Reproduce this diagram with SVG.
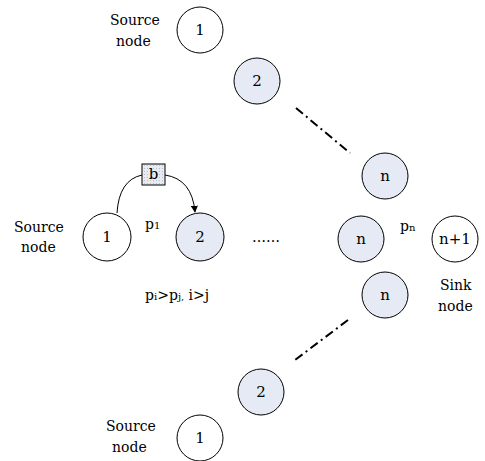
<svg xmlns="http://www.w3.org/2000/svg" width="485" height="461" viewBox="0 0 485 461">
<defs>
<style>
text{font-family:"DejaVu Serif","Liberation Serif",serif}
.t{font-size:14px;fill:#000}
.c{font-size:15px;fill:#000;text-anchor:middle}
.w{fill:#fff;stroke:#000;stroke-width:1}
.g{fill:#e5eaf4;stroke:#000;stroke-width:1}
.dd{fill:none;stroke:#000;stroke-width:2;stroke-dasharray:9,4,2,4}
.arc{fill:none;stroke:#000;stroke-width:1}
</style>
<marker id="ah" viewBox="0 0 10 10" refX="9" refY="5" markerWidth="7" markerHeight="7" orient="auto">
<path d="M0,0 L10,5 L0,10 z" fill="#000"/>
</marker>
<pattern id="dots" width="3" height="3" patternUnits="userSpaceOnUse">
<rect width="3" height="3" fill="#e8ecf2"/>
<rect width="1" height="1" fill="#b8c0cc"/>
</pattern>
</defs>
<rect width="485" height="461" fill="#fff"/>
<g id="connectors">
<path class="dd" d="M296,108 L350,153"/>
<path class="dd" d="M348,320 L295,360"/>
<path class="arc" d="M117,213 Q119,180 142,175"/>
<path class="arc" d="M165,175 Q192,179 195,212" marker-end="url(#ah)"/>
</g>
<g id="top-source-label"><text class="t" x="110" y="25">Source</text><text class="t" x="116" y="46">node</text></g>
<g id="top-1"><circle class="w" cx="200" cy="30" r="23"/><text class="c" x="200" y="35">1</text></g>
<g id="top-2"><circle class="g" cx="257" cy="81" r="23"/><text class="c" x="257" y="86">2</text></g>
<g id="top-n"><circle class="g" cx="385" cy="176" r="23"/><text class="c" x="385" y="181">n</text></g>
<g id="mid-source-label"><text class="t" x="14" y="232">Source</text><text class="t" x="21" y="252">node</text></g>
<g id="mid-1"><circle class="w" cx="107" cy="237" r="24"/><text class="c" x="107" y="242">1</text></g>
<g id="box-b"><rect x="142" y="164" width="23" height="21" fill="url(#dots)" stroke="#000" stroke-width="1"/><text class="c" x="153.5" y="179">b</text></g>
<g id="p1"><text class="t" x="145" y="229">p<tspan font-size="10">1</tspan></text></g>
<g id="mid-2"><circle class="g" cx="200" cy="237" r="24"/><text class="c" x="200" y="242">2</text></g>
<g id="dots-label"><text class="t" x="252" y="242">……</text></g>
<g id="mid-n"><circle class="g" cx="361" cy="239" r="23"/><text class="c" x="361" y="244">n</text></g>
<g id="pn"><text class="t" x="400" y="231">p<tspan font-size="10">n</tspan></text></g>
<g id="sink"><circle class="w" cx="455" cy="239" r="23"/><text class="c" x="455" y="244">n+1</text></g>
<g id="sink-label"><text class="t" x="440" y="290">Sink</text><text class="t" x="438" y="311">node</text></g>
<g id="rule"><text class="t" x="145" y="300">p<tspan font-size="10">i</tspan>&gt;p<tspan font-size="10">j,</tspan> i&gt;j</text></g>
<g id="bot-n"><circle class="g" cx="385" cy="295" r="23"/><text class="c" x="385" y="300">n</text></g>
<g id="bot-2"><circle class="g" cx="261" cy="392" r="23"/><text class="c" x="261" y="397">2</text></g>
<g id="bot-source-label"><text class="t" x="106" y="431">Source</text><text class="t" x="112" y="452">node</text></g>
<g id="bot-1"><circle class="w" cx="200" cy="438" r="23"/><text class="c" x="200" y="443">1</text></g>
</svg>
